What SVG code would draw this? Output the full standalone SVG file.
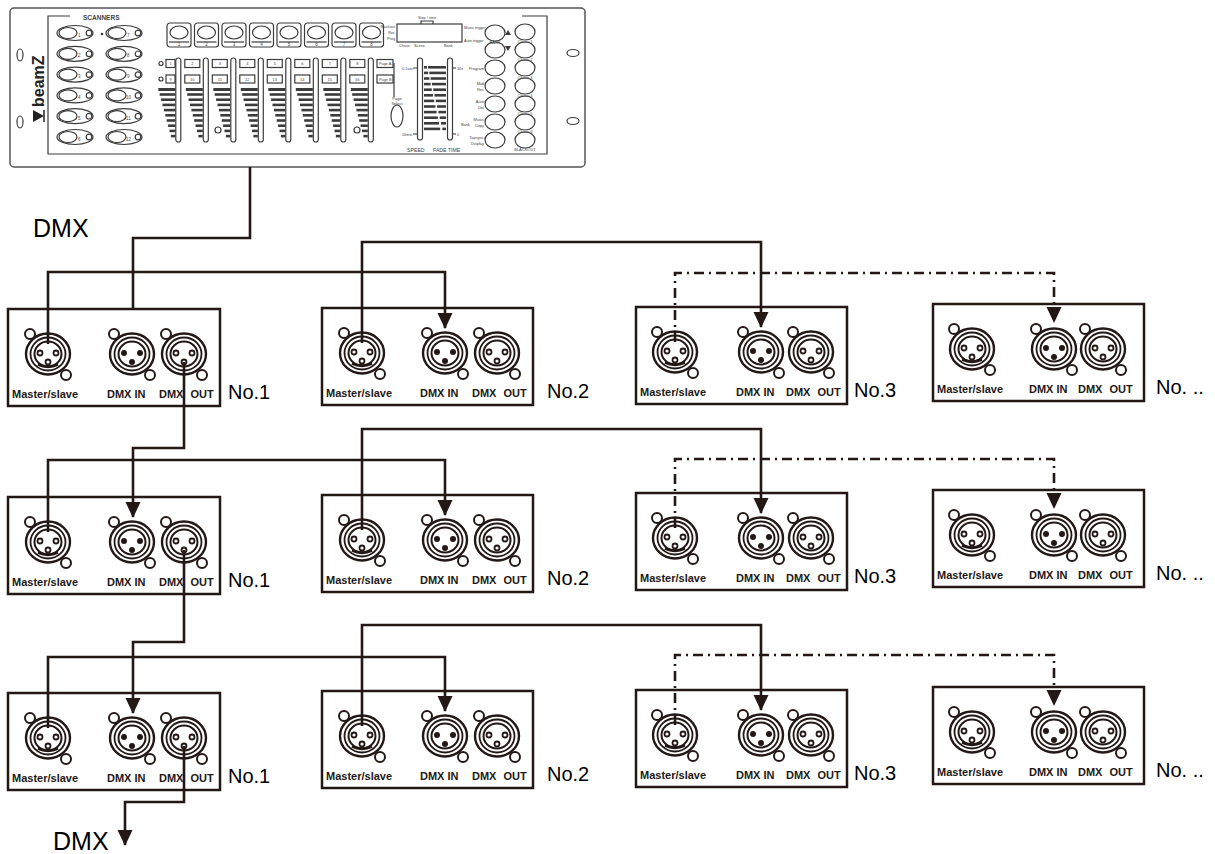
<svg xmlns="http://www.w3.org/2000/svg" width="1215" height="854" viewBox="0 0 1215 854">
<style>
.c{fill:#fff;stroke:#3c3c3c;stroke-width:1.2}
.cn{fill:none;stroke:#3c3c3c;stroke-width:1.2}
.cf{fill:#3c3c3c}
.t{font-family:"Liberation Sans",Arial,sans-serif;fill:#444}
.k{fill:none;stroke:#231815;stroke-width:2.6}
.dd{stroke-dasharray:10 5 2 5}
.box{fill:#fff;stroke:#231815;stroke-width:2.5}
.lbl{font-family:"Liberation Sans",Arial,sans-serif;font-weight:bold;font-size:11px;fill:#231815}
.no{font-family:"Liberation Sans",Arial,sans-serif;font-size:20px;fill:#000}
.big{font-family:"Liberation Sans",Arial,sans-serif;font-size:25px;fill:#000}
.r{fill:#fff;stroke:#231815}
</style>
<defs>
<marker id="ah" markerUnits="userSpaceOnUse" markerWidth="16" markerHeight="16" refX="15" refY="7.5" orient="auto"><path d="M0,0 L16,7.5 L0,15 Z" fill="#231815"/></marker>
<g id="ears"><circle cx="-18" cy="-20" r="5" class="r" stroke-width="2"/><circle cx="18" cy="21" r="5" class="r" stroke-width="2"/></g>
<g id="rings"><ellipse rx="22" ry="20.5" class="r" stroke-width="2.4"/><ellipse rx="17.5" ry="16.5" class="r" stroke-width="1.8"/><ellipse rx="13.5" ry="12.5" class="r" stroke-width="2"/></g>
<g id="c-ms"><use href="#ears"/><use href="#rings"/><circle cx="-8" cy="-1" r="2.5" class="r" stroke-width="1.8"/><circle cx="8" cy="-1" r="2.5" class="r" stroke-width="1.8"/><circle cx="0" cy="8" r="2.5" class="r" stroke-width="1.8"/><path d="M-10 10.5 Q0 15 10 10.5" fill="none" stroke="#231815" stroke-width="3"/></g>
<g id="c-in"><use href="#ears"/><use href="#rings"/><circle cx="-8" cy="-1" r="3" fill="#231815"/><circle cx="8" cy="-1" r="3" fill="#231815"/><circle cx="0" cy="8" r="3" fill="#231815"/></g>
<g id="c-out"><use href="#ears"/><use href="#rings"/><circle cx="-8" cy="-1" r="2.5" class="r" stroke-width="1.8"/><circle cx="8" cy="-1" r="2.5" class="r" stroke-width="1.8"/><circle cx="0" cy="8" r="2.5" class="r" stroke-width="1.8"/></g>
<g id="sb"><ellipse cx="17" cy="0" rx="18" ry="7.5" class="c" stroke-width="1.4"/><ellipse cx="10" cy="0" rx="9" ry="5.5" class="c" stroke-width="1.4"/><circle cx="31" cy="0" r="2.8" class="c"/></g>
<g id="scb"><rect x="0" y="0" width="24" height="24" rx="3" class="c"/><ellipse cx="12" cy="9.5" rx="9" ry="6.5" class="c"/><line x1="2" y1="19" x2="22" y2="19" class="cn" stroke-width="0.6"/></g>
<g id="fader"><rect x="-2.5" y="0" width="5" height="84" rx="2.5" class="c"/>
<g class="cf"><rect x="-20" y="30" width="17" height="3"/><rect x="-18.6" y="35.2" width="15.6" height="2.6"/><rect x="-17.2" y="40.4" width="14.2" height="2.6"/><rect x="-15.8" y="45.6" width="12.8" height="2.6"/><rect x="-14.4" y="50.8" width="11.4" height="2.6"/><rect x="-13" y="56" width="10" height="2.6"/><rect x="-11.6" y="61.2" width="8.6" height="2.6"/><rect x="-10.2" y="66.4" width="7.2" height="2.6"/><rect x="-8.8" y="71.6" width="5.8" height="2.6"/><rect x="-7.4" y="76.8" width="4.4" height="2.6"/></g></g>
</defs>

<g id="controller">
<rect x="10" y="8" width="575" height="159" rx="4" fill="#fff" stroke="#555" stroke-width="1.5"/>
<ellipse cx="20" cy="55" rx="3" ry="6" class="c"/><ellipse cx="20" cy="122" rx="3" ry="6" class="c"/>
<ellipse cx="573" cy="53" rx="6" ry="3.5" class="c"/><ellipse cx="573" cy="121" rx="6" ry="3.5" class="c"/>
<path d="M70 16 H48 V154 H547 V16 H522" class="cn"/>
<text x="83" y="20" class="t" font-size="6.5" font-weight="bold">SCANNERS</text>
<text transform="translate(44,107) rotate(-90)" font-family="Liberation Sans,Arial,sans-serif" font-size="16" font-weight="bold" fill="#222">beamZ</text>
<polygon points="33,110 44,116 33,122" fill="#222"/><line x1="44" y1="110" x2="44" y2="122" stroke="#222" stroke-width="1.5"/>
<g id="scanners">
<use href="#sb" x="58" y="33"/><use href="#sb" x="58" y="53.8"/><use href="#sb" x="58" y="74.6"/><use href="#sb" x="58" y="95.4"/><use href="#sb" x="58" y="116.2"/><use href="#sb" x="58" y="137"/>
<use href="#sb" x="107" y="33"/><use href="#sb" x="107" y="53.8"/><use href="#sb" x="107" y="74.6"/><use href="#sb" x="107" y="95.4"/><use href="#sb" x="107" y="116.2"/><use href="#sb" x="107" y="137"/>
<circle cx="102" cy="34" r="1.3" class="cf"/>
<g class="t" font-size="4.5"><text x="78" y="36.5">1</text><text x="78" y="57.3">2</text><text x="78" y="78.1">3</text><text x="78" y="98.9">4</text><text x="78" y="119.7">5</text><text x="78" y="140.5">6</text>
<text x="127" y="36.5">7</text><text x="127" y="57.3">8</text><text x="127" y="78.1">9</text><text x="126" y="98.9">10</text><text x="126" y="119.7">11</text><text x="126" y="140.5">12</text></g>
</g>
<g id="scenes">
<use href="#scb" x="167" y="23"/><use href="#scb" x="194.5" y="23"/><use href="#scb" x="222" y="23"/><use href="#scb" x="249.5" y="23"/><use href="#scb" x="277" y="23"/><use href="#scb" x="304.5" y="23"/><use href="#scb" x="332" y="23"/><use href="#scb" x="359.5" y="23"/>
<g class="t" font-size="4.5" text-anchor="middle"><text x="179" y="45.5">1</text><text x="206.5" y="45.5">2</text><text x="234" y="45.5">3</text><text x="261.5" y="45.5">4</text><text x="289" y="45.5">5</text><text x="316.5" y="45.5">6</text><text x="344" y="45.5">7</text><text x="371.5" y="45.5">8</text></g>
</g>
<g id="faders">
<use href="#fader" x="178.3" y="58"/><use href="#fader" x="205.8" y="58"/><use href="#fader" x="233.3" y="58"/><use href="#fader" x="260.8" y="58"/><use href="#fader" x="288.3" y="58"/><use href="#fader" x="315.8" y="58"/><use href="#fader" x="343.3" y="58"/><use href="#fader" x="370.8" y="58"/>
<circle cx="161" cy="63.5" r="2" class="c"/><circle cx="161" cy="79" r="2" class="c"/>
<rect x="166" y="59.5" width="9" height="8" class="c" stroke-width="0.9"/><rect x="166" y="75" width="9" height="8" class="c" stroke-width="0.9"/>
<rect x="184.8" y="59.5" width="15" height="8" class="c" stroke-width="0.9"/><rect x="212.3" y="59.5" width="15" height="8" class="c" stroke-width="0.9"/><rect x="239.8" y="59.5" width="15" height="8" class="c" stroke-width="0.9"/><rect x="267.3" y="59.5" width="15" height="8" class="c" stroke-width="0.9"/><rect x="294.8" y="59.5" width="15" height="8" class="c" stroke-width="0.9"/><rect x="322.3" y="59.5" width="15" height="8" class="c" stroke-width="0.9"/><rect x="349.8" y="59.5" width="15" height="8" class="c" stroke-width="0.9"/>
<rect x="184.8" y="75" width="15" height="8" class="c" stroke-width="0.9"/><rect x="212.3" y="75" width="15" height="8" class="c" stroke-width="0.9"/><rect x="239.8" y="75" width="15" height="8" class="c" stroke-width="0.9"/><rect x="267.3" y="75" width="15" height="8" class="c" stroke-width="0.9"/><rect x="294.8" y="75" width="15" height="8" class="c" stroke-width="0.9"/><rect x="322.3" y="75" width="15" height="8" class="c" stroke-width="0.9"/><rect x="349.8" y="75" width="15" height="8" class="c" stroke-width="0.9"/>
<g class="t" font-size="4" text-anchor="middle"><text x="170.5" y="65.3">1</text><text x="192.3" y="65.3">2</text><text x="219.8" y="65.3">3</text><text x="247.3" y="65.3">4</text><text x="274.8" y="65.3">5</text><text x="302.3" y="65.3">6</text><text x="329.8" y="65.3">7</text><text x="357.3" y="65.3">8</text>
<text x="170.5" y="80.8">9</text><text x="192.3" y="80.8">10</text><text x="219.8" y="80.8">11</text><text x="247.3" y="80.8">12</text><text x="274.8" y="80.8">13</text><text x="302.3" y="80.8">14</text><text x="329.8" y="80.8">15</text><text x="357.3" y="80.8">16</text></g>
<circle cx="218" cy="130" r="3" class="c"/><circle cx="357" cy="130" r="3" class="c"/>
</g>
<g id="page">
<rect x="377" y="59.5" width="16" height="8" class="c" stroke-width="0.9"/><rect x="377" y="75" width="16" height="8" class="c" stroke-width="0.9"/>
<g class="t" font-size="3.8"><text x="379" y="65">Page A</text><text x="379" y="80.5">Page B</text></g>
<line x1="394" y1="63" x2="394" y2="97" class="cn" stroke-width="0.9"/>
<g class="t" font-size="4" text-anchor="middle"><text x="397" y="100">Page</text><text x="397" y="105">Select</text></g>
<ellipse cx="397" cy="116" rx="6" ry="11" class="c"/>
</g>
<g id="lcd">
<rect x="397" y="24" width="65" height="18" class="c"/>
<path d="M421 24 V21 H433 V24" class="cn" stroke-width="0.8"/>
<g class="t" font-size="3.8"><text x="427" y="19" text-anchor="middle">Step / time</text>
<text x="395" y="28" text-anchor="end">Blackout</text><text x="395" y="34" text-anchor="end">Rec</text><text x="395" y="40" text-anchor="end">Prog</text>
<text x="399" y="47">Chase</text><text x="414" y="47">Scene</text><text x="444" y="47">Bank</text>
<text x="464" y="29">Music trigger</text><text x="464" y="42">Auto trigger</text></g>
</g>
<g id="speedfade">
<rect x="417.5" y="58" width="5" height="82" rx="2.5" class="c"/><rect x="447.5" y="58" width="5" height="82" rx="2.5" class="c"/>
<g class="cf"><rect x="424" y="66" width="3" height="2.6"/><rect x="424" y="71.6" width="4.2" height="2.6"/><rect x="424" y="77.2" width="5.4" height="2.6"/><rect x="424" y="82.8" width="6.6" height="2.6"/><rect x="424" y="88.4" width="7.8" height="2.6"/><rect x="424" y="94" width="9" height="2.6"/><rect x="424" y="99.6" width="10.2" height="2.6"/><rect x="424" y="105.2" width="11.4" height="2.6"/><rect x="424" y="110.8" width="12.6" height="2.6"/><rect x="424" y="116.4" width="13.8" height="2.6"/><rect x="424" y="122" width="15" height="2.6"/><rect x="424" y="127.6" width="16.2" height="2.6"/>
<rect x="428" y="66" width="18" height="2.6"/><rect x="429.3" y="71.6" width="16.7" height="2.6"/><rect x="430.6" y="77.2" width="15.4" height="2.6"/><rect x="431.9" y="82.8" width="14.1" height="2.6"/><rect x="433.2" y="88.4" width="12.8" height="2.6"/><rect x="434.5" y="94" width="11.5" height="2.6"/><rect x="435.8" y="99.6" width="10.2" height="2.6"/><rect x="437.1" y="105.2" width="8.9" height="2.6"/><rect x="438.4" y="110.8" width="7.6" height="2.6"/><rect x="439.7" y="116.4" width="6.3" height="2.6"/><rect x="441" y="122" width="5" height="2.6"/><rect x="442.3" y="127.6" width="3.7" height="2.6"/></g>
<path d="M413 68 H418 M413 134 H418 M452 68 H456 M452 134 H456" class="cn" stroke-width="0.8"/>
<g class="t" font-size="3.8"><text x="402" y="70">0.1sec</text><text x="402" y="136">10min</text><text x="457" y="70">30s</text><text x="457" y="136">0</text></g>
<g class="t" font-size="5.2"><text x="407" y="152">SPEED</text><text x="433" y="152">FADE TIME</text></g>
</g>
<g id="rightbuttons">
<ellipse cx="495" cy="33" rx="10" ry="8" class="c"/><ellipse cx="495" cy="50" rx="10" ry="8" class="c"/><ellipse cx="495" cy="68" rx="10" ry="8" class="c"/><ellipse cx="495" cy="86" rx="10" ry="8" class="c"/><ellipse cx="495" cy="104" rx="10" ry="8" class="c"/><ellipse cx="495" cy="122" rx="10" ry="8" class="c"/><ellipse cx="495" cy="140" rx="10" ry="8" class="c"/>
<ellipse cx="525" cy="32" rx="10" ry="8" class="c"/><ellipse cx="525" cy="50" rx="10" ry="8" class="c"/><ellipse cx="525" cy="68" rx="10" ry="8" class="c"/><ellipse cx="525" cy="86" rx="10" ry="8" class="c"/><ellipse cx="525" cy="104" rx="10" ry="8" class="c"/><ellipse cx="525" cy="122" rx="10" ry="8" class="c"/><ellipse cx="525" cy="140" rx="10" ry="8" class="c"/>
<polygon points="505,35 511,35 508,30" class="cf"/><polygon points="505,46 511,46 508,51" class="cf"/>
<g class="t" font-size="4"><text x="495" y="43.5" text-anchor="middle">BANK</text>
<text x="484" y="70" text-anchor="end">Program</text>
<text x="484" y="85" text-anchor="end">Midi</text><text x="484" y="91" text-anchor="end">Rec</text>
<text x="484" y="103" text-anchor="end">Auto</text><text x="484" y="109" text-anchor="end">Del</text>
<text x="470" y="126" text-anchor="end">Bank</text><text x="484" y="121" text-anchor="end">Music</text><text x="484" y="127" text-anchor="end">Copy</text>
<text x="484" y="139" text-anchor="end">Tapsync</text><text x="484" y="145" text-anchor="end">Display</text>
<g text-anchor="middle"><text x="525" y="43">Chase 1</text><text x="525" y="61">Chase 2</text><text x="525" y="79">Chase 3</text><text x="525" y="96.5">Chase 4</text><text x="525" y="114.5">Chase 5</text><text x="525" y="132.5">Chase 6</text><text x="525" y="151">BLACKOUT</text></g></g>
</g>
</g>

<text x="33" y="237" class="big">DMX</text>
<text x="53" y="850" class="big">DMX</text>

<!-- Row 1 -->
<g id="r1-n1"><rect x="8" y="309" width="212" height="97" class="box"/><use href="#c-ms" x="48" y="354"/><use href="#c-in" x="132" y="354"/><use href="#c-out" x="184" y="354"/><text x="12" y="398" class="lbl">Master/slave</text><text x="107" y="398" class="lbl">DMX IN</text><text x="159" y="398" class="lbl" word-spacing="4">DMX OUT</text><text x="228" y="399" class="no">No.1</text></g>
<g id="r1-n2"><rect x="322" y="308" width="211" height="97" class="box"/><use href="#c-ms" x="362" y="353"/><use href="#c-in" x="445" y="353"/><use href="#c-out" x="497" y="353"/><text x="326" y="397" class="lbl">Master/slave</text><text x="420" y="397" class="lbl">DMX IN</text><text x="472" y="397" class="lbl" word-spacing="4">DMX OUT</text><text x="547" y="398" class="no">No.2</text></g>
<g id="r1-n3"><rect x="636" y="307" width="211" height="97" class="box"/><use href="#c-ms" x="675" y="352"/><use href="#c-in" x="761" y="352"/><use href="#c-out" x="811" y="352"/><text x="640" y="396" class="lbl">Master/slave</text><text x="736" y="396" class="lbl">DMX IN</text><text x="786" y="396" class="lbl" word-spacing="4">DMX OUT</text><text x="854" y="397" class="no">No.3</text></g>
<g id="r1-n4"><rect x="933" y="304" width="211" height="97" class="box"/><use href="#c-ms" x="972" y="349"/><use href="#c-in" x="1054" y="349"/><use href="#c-out" x="1103" y="349"/><text x="937" y="393" class="lbl">Master/slave</text><text x="1029" y="393" class="lbl">DMX IN</text><text x="1078" y="393" class="lbl" word-spacing="4">DMX OUT</text><text x="1156" y="394" class="no">No. ..</text></g>

<!-- Row 2 -->
<g id="r2-n1"><rect x="8" y="497" width="212" height="97" class="box"/><use href="#c-ms" x="48" y="542"/><use href="#c-in" x="132" y="542"/><use href="#c-out" x="184" y="542"/><text x="12" y="586" class="lbl">Master/slave</text><text x="107" y="586" class="lbl">DMX IN</text><text x="159" y="586" class="lbl" word-spacing="4">DMX OUT</text><text x="228" y="587" class="no">No.1</text></g>
<g id="r2-n2"><rect x="322" y="495" width="211" height="97" class="box"/><use href="#c-ms" x="362" y="540"/><use href="#c-in" x="445" y="540"/><use href="#c-out" x="497" y="540"/><text x="326" y="584" class="lbl">Master/slave</text><text x="420" y="584" class="lbl">DMX IN</text><text x="472" y="584" class="lbl" word-spacing="4">DMX OUT</text><text x="547" y="585" class="no">No.2</text></g>
<g id="r2-n3"><rect x="636" y="493" width="211" height="97" class="box"/><use href="#c-ms" x="675" y="538"/><use href="#c-in" x="761" y="538"/><use href="#c-out" x="811" y="538"/><text x="640" y="582" class="lbl">Master/slave</text><text x="736" y="582" class="lbl">DMX IN</text><text x="786" y="582" class="lbl" word-spacing="4">DMX OUT</text><text x="854" y="583" class="no">No.3</text></g>
<g id="r2-n4"><rect x="933" y="490" width="211" height="97" class="box"/><use href="#c-ms" x="972" y="535"/><use href="#c-in" x="1054" y="535"/><use href="#c-out" x="1103" y="535"/><text x="937" y="579" class="lbl">Master/slave</text><text x="1029" y="579" class="lbl">DMX IN</text><text x="1078" y="579" class="lbl" word-spacing="4">DMX OUT</text><text x="1156" y="580" class="no">No. ..</text></g>

<!-- Row 3 -->
<g id="r3-n1"><rect x="8" y="693" width="212" height="97" class="box"/><use href="#c-ms" x="48" y="738"/><use href="#c-in" x="132" y="738"/><use href="#c-out" x="184" y="738"/><text x="12" y="782" class="lbl">Master/slave</text><text x="107" y="782" class="lbl">DMX IN</text><text x="159" y="782" class="lbl" word-spacing="4">DMX OUT</text><text x="228" y="783" class="no">No.1</text></g>
<g id="r3-n2"><rect x="322" y="691" width="211" height="97" class="box"/><use href="#c-ms" x="362" y="736"/><use href="#c-in" x="445" y="736"/><use href="#c-out" x="497" y="736"/><text x="326" y="780" class="lbl">Master/slave</text><text x="420" y="780" class="lbl">DMX IN</text><text x="472" y="780" class="lbl" word-spacing="4">DMX OUT</text><text x="547" y="781" class="no">No.2</text></g>
<g id="r3-n3"><rect x="636" y="690" width="211" height="97" class="box"/><use href="#c-ms" x="675" y="735"/><use href="#c-in" x="761" y="735"/><use href="#c-out" x="811" y="735"/><text x="640" y="779" class="lbl">Master/slave</text><text x="736" y="779" class="lbl">DMX IN</text><text x="786" y="779" class="lbl" word-spacing="4">DMX OUT</text><text x="854" y="780" class="no">No.3</text></g>
<g id="r3-n4"><rect x="933" y="687" width="211" height="97" class="box"/><use href="#c-ms" x="972" y="732"/><use href="#c-in" x="1054" y="732"/><use href="#c-out" x="1103" y="732"/><text x="937" y="776" class="lbl">Master/slave</text><text x="1029" y="776" class="lbl">DMX IN</text><text x="1078" y="776" class="lbl" word-spacing="4">DMX OUT</text><text x="1156" y="777" class="no">No. ..</text></g>

<g id="connectors">
<path class="k" d="M250 167 V238 H133 V309"/>
<path class="k" d="M48 344 V272 H445 V328" marker-end="url(#ah)"/>
<path class="k" d="M362 343 V242 H761 V327" marker-end="url(#ah)"/>
<path class="k dd" d="M675 342 V273 H1054 V322" marker-end="url(#ah)"/>
<path class="k" d="M184 362 V448 H133 V517" marker-end="url(#ah)"/>

<path class="k" d="M48 532 V460 H445 V515" marker-end="url(#ah)"/>
<path class="k" d="M362 530 V429 H761 V513" marker-end="url(#ah)"/>
<path class="k dd" d="M675 528 V459 H1054 V508" marker-end="url(#ah)"/>
<path class="k" d="M184 550 V642 H133 V713" marker-end="url(#ah)"/>

<path class="k" d="M48 728 V657 H445 V711" marker-end="url(#ah)"/>
<path class="k" d="M362 726 V625 H761 V710" marker-end="url(#ah)"/>
<path class="k dd" d="M675 725 V655 H1054 V705" marker-end="url(#ah)"/>
<path class="k" d="M184 746 V802 H125 V845" marker-end="url(#ah)"/>
</g>
</svg>
